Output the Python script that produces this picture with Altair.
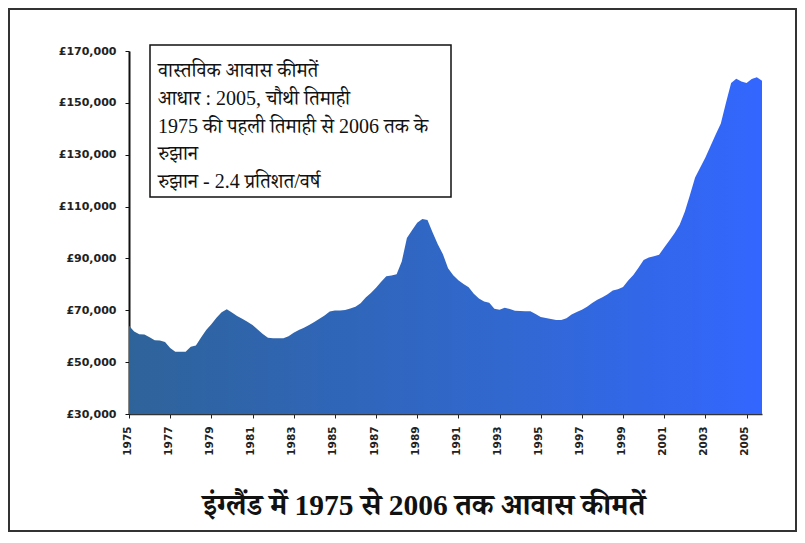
import altair as alt
import pandas as pd

start_year = 1975
prices = [
    64000, 61800, 60800, 60700, 59600, 58400, 58300, 57800, 55500, 54000,
    54000, 54000, 55900, 56400, 59500, 62400, 64600, 67100, 69200, 70400,
    69100, 67800, 66700, 65600, 64300, 62600, 60900, 59400, 59200, 59200,
    59200, 60000, 61300, 62400, 63300, 64300, 65500, 66700, 68000, 69500,
    69900, 69900, 70100, 70700, 71400, 72700, 74900, 76700, 78700, 81000,
    83100, 83400, 83900, 88800, 97900, 100900, 103800, 105200, 104800, 100000,
    95500, 91600, 86200, 83500, 81600, 80100, 78900, 76400, 74500, 73400,
    72900, 70600, 70200, 71000, 70500, 69800, 69700, 69600, 69600, 68600,
    67400, 67000, 66600, 66300, 66300, 66900, 68400, 69300, 70200, 71400,
    72800, 74100, 75000, 76200, 77600, 78100, 79000, 81500, 83600, 86400,
    89400, 90400, 90800, 91400, 94200, 96900, 99700, 103000, 108000, 114500,
    121200, 125100, 128900, 133400, 137800, 142000, 150000, 157700, 159300, 158200,
    157700, 159200, 159900, 158500,
]
quarters = [start_year + i / 4 for i in range(len(prices))]

x_ticks = [1975, 1977, 1979, 1981, 1983, 1985, 1987, 1989, 1991, 1993, 1995,
           1997, 1999, 2001, 2003, 2005]
y_ticks = [30000, 50000, 70000, 90000, 110000, 130000, 150000, 170000]

box_lines = [
    "वास्तविक आवास कीमतें",
    "आधार : 2005, चौथी तिमाही",
    "1975 की पहली तिमाही से 2006 तक के",
    "रुझान",
    "रुझान - 2.4 प्रतिशत/वर्ष",
]
title_text = "इंग्लैंड में 1975 से 2006 तक आवास कीमतें"

df = pd.DataFrame({"year": quarters, "price": prices})

DEVA = "Liberation Serif, Noto Serif Devanagari, Noto Sans Devanagari, serif"

grad = alt.Gradient(
    gradient="linear",
    stops=[alt.GradientStop(color="#2e639a", offset=0),
           alt.GradientStop(color="#3168d0", offset=0.6),
           alt.GradientStop(color="#3366ff", offset=1)],
    x1=0, x2=1, y1=0, y2=0,
)

area = alt.Chart(df).mark_area(color=grad, clip=True).encode(
    x=alt.X("year:Q",
            scale=alt.Scale(domain=[1975, quarters[-1]], nice=False, zero=False),
            axis=alt.Axis(values=x_ticks, labelExpr="format(datum.value, 'd')",
                          labelAngle=270, labelFont="DejaVu Sans", labelFontSize=10.5,
                          labelFontWeight="bold", labelColor="#222", labelPadding=8,
                          labelOffset=-2, tickSize=4, tickColor="#222",
                          domainColor="#333", domainWidth=1.5, grid=False,
                          labelOverlap=False),
            title=None),
    y=alt.Y("price:Q",
            scale=alt.Scale(domain=[30000, 170000], nice=False, zero=False),
            axis=alt.Axis(values=y_ticks, labelExpr="'£' + format(datum.value, ',')",
                          labelFont="DejaVu Sans", labelFontSize=11,
                          labelFontWeight="bold", labelColor="#222", labelPadding=9,
                          tickSize=4, tickColor="#111", domainColor="#111",
                          domainWidth=2, grid=False),
            title=None),
)

box_rect = alt.Chart(pd.DataFrame({"k": [0]})).mark_rect(
    fill="white", stroke="#111", strokeWidth=1.5
).encode(x=alt.value(21), x2=alt.value(322), y=alt.value(-6), y2=alt.value(146))

box_text = alt.Chart(pd.DataFrame({"t": ["\n".join(box_lines)]})).mark_text(
    align="left", baseline="alphabetic", font=DEVA, fontSize=20, color="#111",
    lineBreak="\n", lineHeight=27.8
).encode(x=alt.value(29), y=alt.value(26), text="t:N")

title = alt.Chart(pd.DataFrame({"t": [title_text]})).mark_text(
    align="center", baseline="alphabetic", font=DEVA, fontSize=29.5,
    fontWeight="bold", color="#111"
).encode(x=alt.value(295), y=alt.value(464), text="t:N")

frame = alt.Chart(pd.DataFrame({"k": [0]})).mark_rect(
    fill=None, stroke="#333", strokeWidth=2
).encode(x=alt.value(-120), x2=alt.value(667), y=alt.value(-42), y2=alt.value(480))

chart = alt.layer(area, box_rect, box_text, title, frame).properties(
    width=633, height=363,
    autosize=alt.AutoSizeParams(type="none"),
    padding={"left": 121, "top": 43, "right": 35, "bottom": 118},
    background="white",
).configure_view(stroke=None)

chart.save("out.html", embed_options={"renderer": "svg", "actions": False})
